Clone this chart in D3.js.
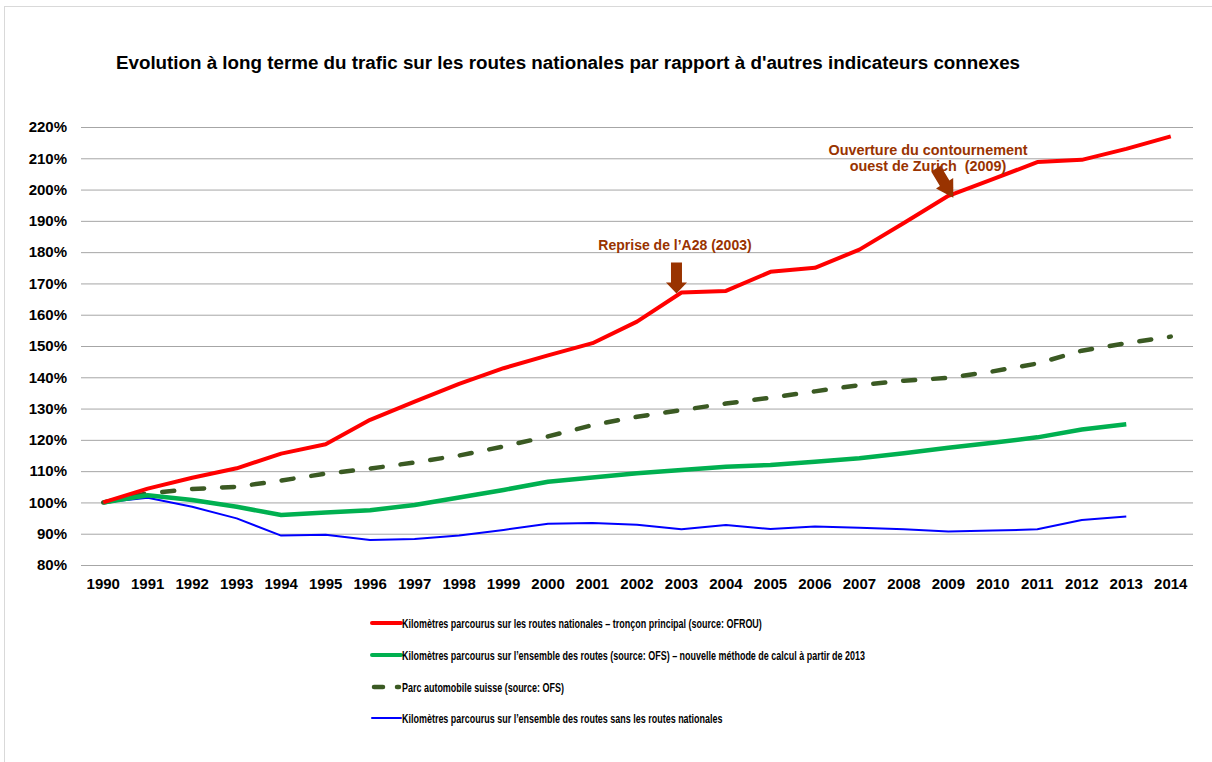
<!DOCTYPE html>
<html>
<head>
<meta charset="utf-8">
<title>Evolution du trafic</title>
<script src="https://cdn.jsdelivr.net/npm/d3@7/dist/d3.min.js"></script>
<style>
  body { margin: 0; background: #fff; }
  text { font-family: Arial, "Liberation Sans", sans-serif; font-weight: bold; }
</style>
</head>
<body>
<script>
// données (indice 1990 = 100%)
var years = d3.range(1990, 2015);
var yTicks = [80, 90, 100, 110, 120, 130, 140, 150, 160, 170, 180, 190, 200, 210, 220];

var routesNationales = [100, 104.4, 107.9, 110.9, 115.6, 118.6, 126.4, 132.2, 137.9, 142.9, 147.0, 150.9, 157.8, 167.1, 167.6, 173.7, 175.0, 180.8, 189.3, 198.0, 203.3, 208.8, 209.5, 213.0, 217.0];
var ensembleRoutes = [100, 102.3, 100.8, 98.6, 96.0, 96.8, 97.5, 99.2, 101.6, 104.0, 106.6, 108.0, 109.3, 110.4, 111.4, 112.0, 113.0, 114.1, 115.7, 117.5, 119.1, 120.8, 123.3, 125.0, null];
var parcAuto = [100, 102.9, 104.3, 105.0, 107.0, 109.2, 110.8, 112.8, 115.0, 117.9, 121.1, 124.7, 127.4, 129.5, 131.6, 133.5, 135.5, 137.5, 138.9, 139.8, 141.9, 144.4, 148.5, 150.9, 153.0];
var sansNationales = [100, 101.5, 98.6, 94.9, 89.4, 89.7, 88.0, 88.3, 89.4, 91.2, 93.2, 93.4, 92.9, 91.4, 92.8, 91.5, 92.3, 91.9, 91.4, 90.7, 91.0, 91.4, 94.4, 95.5, null];

var seriesNames = [
  "Kilomètres parcourus sur les routes nationales – tronçon principal (source: OFROU)",
  "Kilomètres parcourus sur l’ensemble des routes (source: OFS) – nouvelle méthode de calcul à partir de 2013",
  "Parc automobile suisse (source: OFS)",
  "Kilomètres parcourus sur l’ensemble des routes sans les routes nationales"
];

var title = "Evolution à long terme du trafic sur les routes nationales par rapport à d'autres indicateurs connexes";

var series = [
  {name: seriesNames[0], values: routesNationales, color: "#ff0000", width: 4, dash: null},
  {name: seriesNames[1], values: ensembleRoutes, color: "#00b050", width: 4.5, dash: null},
  {name: seriesNames[2], values: parcAuto, color: "#3b5a23", width: 4.5, dash: "12,18"},
  {name: seriesNames[3], values: sansNationales, color: "#0000ff", width: 2, dash: null}
];
// ordre de dessin: le rouge au-dessus
var drawOrder = [3, 2, 1, 0];

var width = 1212, height = 762;
var plotLeft = 81, plotRight = 1193, plotTop = 127, plotBottom = 565;

var svg = d3.select("body").append("svg")
    .attr("width", width)
    .attr("height", height);

// cadre
svg.append("rect")
    .attr("x", 4.5).attr("y", 6.5)
    .attr("width", width).attr("height", height)
    .attr("fill", "none")
    .attr("stroke", "#d9d9d9");

var xBand = d3.scaleBand().domain(years).range([plotLeft, plotRight]).padding(0);
function x(year) { return xBand(year) + xBand.bandwidth() / 2; }
var y = d3.scaleLinear().domain([80, 220]).range([plotBottom, plotTop]);

svg.append("text")
    .attr("x", 568)
    .attr("y", 69)
    .attr("text-anchor", "middle")
    .style("font-size", "18.8px")
    .text(title);

// grille
var yAxis = d3.axisLeft(y)
    .tickValues(yTicks)
    .tickSize(-(plotRight - plotLeft))
    .tickPadding(14)
    .tickFormat(function(d) { return d + "%"; });

var gy = svg.append("g")
    .attr("transform", "translate(" + plotLeft + ",0)")
    .call(yAxis);
gy.select(".domain").remove();
gy.selectAll(".tick line").attr("stroke", "#a6a6a6").attr("stroke-width", 1);
gy.selectAll(".tick text")
    .attr("fill", "#000")
    .style("font-size", "15px")
    .style("font-family", "Arial, 'Liberation Sans', sans-serif");

var xAxis = d3.axisBottom(xBand).tickSize(0).tickPadding(13);
var gx = svg.append("g")
    .attr("transform", "translate(0," + plotBottom + ")")
    .call(xAxis);
gx.select(".domain").remove();
gx.selectAll(".tick text")
    .attr("fill", "#000")
    .style("font-size", "15px")
    .style("font-family", "Arial, 'Liberation Sans', sans-serif");

// courbes
var line = d3.line()
    .defined(function(d) { return d.v != null; })
    .x(function(d) { return x(d.year); })
    .y(function(d) { return y(d.v); });

drawOrder.forEach(function(i) {
  var s = series[i];
  var pts = years.map(function(yr, k) { return {year: yr, v: s.values[k]}; });
  svg.append("path")
      .attr("d", line(pts))
      .attr("fill", "none")
      .attr("stroke", s.color)
      .attr("stroke-width", s.width)
      .attr("stroke-linejoin", "round")
      .attr("stroke-linecap", s.dash ? "round" : "butt")
      .attr("stroke-dasharray", s.dash);
});

// annotations
var brown = "#993300";
svg.append("text")
    .attr("x", 675).attr("y", 250)
    .attr("text-anchor", "middle")
    .attr("fill", brown)
    .style("font-size", "14px")
    .text("Reprise de l’A28 (2003)");

// flèche vers le bas sur 2003
var tip1 = [x(2003) - 5, y(routesNationales[13]) + 1];
svg.append("path")
    .attr("d", "M" + (tip1[0] - 5.5) + "," + (tip1[1] - 31) +
               "h11 v20 h5 L" + tip1[0] + "," + tip1[1] +
               " L" + (tip1[0] - 10.5) + "," + (tip1[1] - 11) + " h5 Z")
    .attr("fill", brown);

svg.append("text")
    .attr("x", 928).attr("y", 155)
    .attr("text-anchor", "middle")
    .attr("fill", brown)
    .style("font-size", "14.4px")
    .text("Ouverture du contournement");
svg.append("text")
    .attr("x", 928).attr("y", 171)
    .attr("text-anchor", "middle")
    .attr("fill", brown)
    .style("font-size", "14.4px")
    .text("ouest de Zurich \u00a0(2009)");

// flèche diagonale vers 2009
var tip2 = [x(2009) + 5, y(routesNationales[19]) + 2];
var ang = Math.atan2(25, 15);
svg.append("path")
    .attr("d", "M0,-5.5 L-17,-5.5 L-17,-10 L0,0 L-17,10 L-17,5.5 L-34,5.5 L-34,-5.5 Z")
    .attr("transform", "translate(" + tip2[0] + "," + tip2[1] + ") rotate(" + (ang * 180 / Math.PI) + ")")
    .attr("fill", brown);

// légende
var legendX = 372, legendY = [623, 655, 687, 718];
var legend = svg.append("g");
series.forEach(function(s, i) {
  var g = legend.append("g").attr("transform", "translate(" + legendX + "," + legendY[i] + ")");
  if (s.dash) {
    g.append("line").attr("x1", 2).attr("x2", 11).attr("stroke", s.color)
        .attr("stroke-width", 4.5).attr("stroke-linecap", "round");
    g.append("line").attr("x1", 25).attr("x2", 27).attr("stroke", s.color)
        .attr("stroke-width", 4.5).attr("stroke-linecap", "round");
  } else {
    g.append("line").attr("x1", 0).attr("x2", 29).attr("stroke", s.color)
        .attr("stroke-width", s.width === 2 ? 2 : 4)
        .attr("stroke-linecap", "round");
  }
  g.append("text")
      .attr("class", "lt")
      .attr("x", 30)
      .attr("y", 4.5)
      .style("font-size", "12.5px")
      .text(s.name);
});

// texte de légende un peu condensé comme dans l'original
var lt = legend.selectAll("text.lt");
var w0 = lt.nodes()[0].getComputedTextLength();
var k = 360 / w0;
lt.attr("transform", function() {
  var xx = +d3.select(this).attr("x");
  return "translate(" + xx + ",0) scale(" + k + ",1) translate(" + (-xx) + ",0)";
});
</script>
</body>
</html>
